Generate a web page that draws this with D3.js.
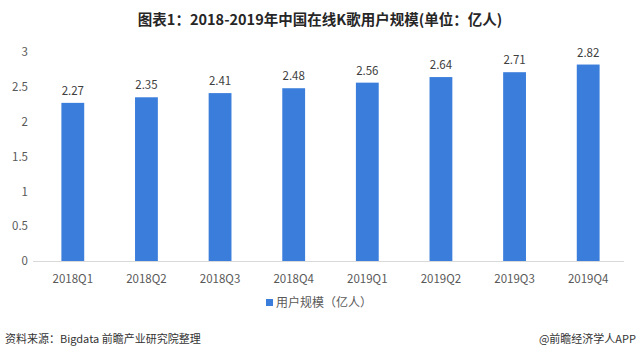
<!DOCTYPE html>
<html><head><meta charset="utf-8">
<script src="https://cdn.jsdelivr.net/npm/d3@7"></script>
<style>body{margin:0;background:#fff}svg{display:block}</style>
</head><body>
<script>
const categories = ["2018Q1","2018Q2","2018Q3","2018Q4","2019Q1","2019Q2","2019Q3","2019Q4"];
const values = [2.27,2.35,2.41,2.48,2.56,2.64,2.71,2.82];
const yTicks = [0,0.5,1,1.5,2,2.5,3];
const seriesName = "用户规模（亿人）";
const title = "图表1：2018-2019年中国在线K歌用户规模(单位：亿人)";
const source = "资料来源：Bigdata 前瞻产业研究院整理";
const credit = "@前瞻经济学人APP";

const W=640,H=360;
const font = "'Noto Sans CJK SC','Noto Sans',sans-serif";
const svg = d3.select("body").append("svg").attr("width",W).attr("height",H);
svg.append("rect").attr("width",W).attr("height",H).attr("fill","#fff");

const x = d3.scaleBand().domain(categories).range([36,625]).paddingInner(0.69).paddingOuter(0.345);
const y = d3.scaleLinear().domain([0,3]).range([261,52]);
const color = "#3a7ddb";

svg.append("text").attr("x",320).attr("y",25).attr("text-anchor","middle")
  .attr("font-family",font).attr("font-weight","bold").attr("font-size",14.5).attr("fill","#262626").text(title);

const ya = svg.append("g").attr("transform","translate(28,0)")
  .call(d3.axisLeft(y).tickValues(yTicks).tickSize(0).tickPadding(0).tickFormat(d3.format("~g")));
ya.select(".domain").remove();
ya.selectAll("text").attr("font-family",font).attr("font-size",11.5).attr("fill","#595959");

svg.selectAll("rect.bar").data(values).join("rect").attr("class","bar")
  .attr("x",(d,i)=>x(categories[i])).attr("width",x.bandwidth())
  .attr("y",d=>y(d)).attr("height",d=>y(0)-y(d)).attr("fill",color);

svg.selectAll("text.lbl").data(values).join("text").attr("class","lbl")
  .attr("x",(d,i)=>x(categories[i])+x.bandwidth()/2).attr("y",d=>y(d)-8)
  .attr("text-anchor","middle").attr("font-family",font).attr("font-size",11.5).attr("fill","#404040")
  .text(d=>d.toFixed(2));

const xa = svg.append("g").attr("transform",`translate(0,${y(0)})`)
  .call(d3.axisBottom(x).tickSize(0).tickPadding(14));
xa.select(".domain").attr("stroke","#d9d9d9").attr("d","M33,0.5H624");
xa.selectAll("text").attr("font-family",font).attr("font-size",11.5).attr("fill","#595959");

const lg = svg.append("g").attr("transform","translate(266,299)");
lg.append("rect").attr("width",7).attr("height",7).attr("fill",color);
lg.append("text").attr("x",10).attr("y",8).attr("font-family",font).attr("font-size",12).attr("fill","#595959").text(seriesName);

svg.append("text").attr("x",5).attr("y",343).attr("font-family",font).attr("font-size",11).attr("fill","#333").text(source);
svg.append("text").attr("x",636).attr("y",343).attr("text-anchor","end").attr("font-family",font).attr("font-size",11).attr("fill","#333").text(credit);
</script>
</body></html>
